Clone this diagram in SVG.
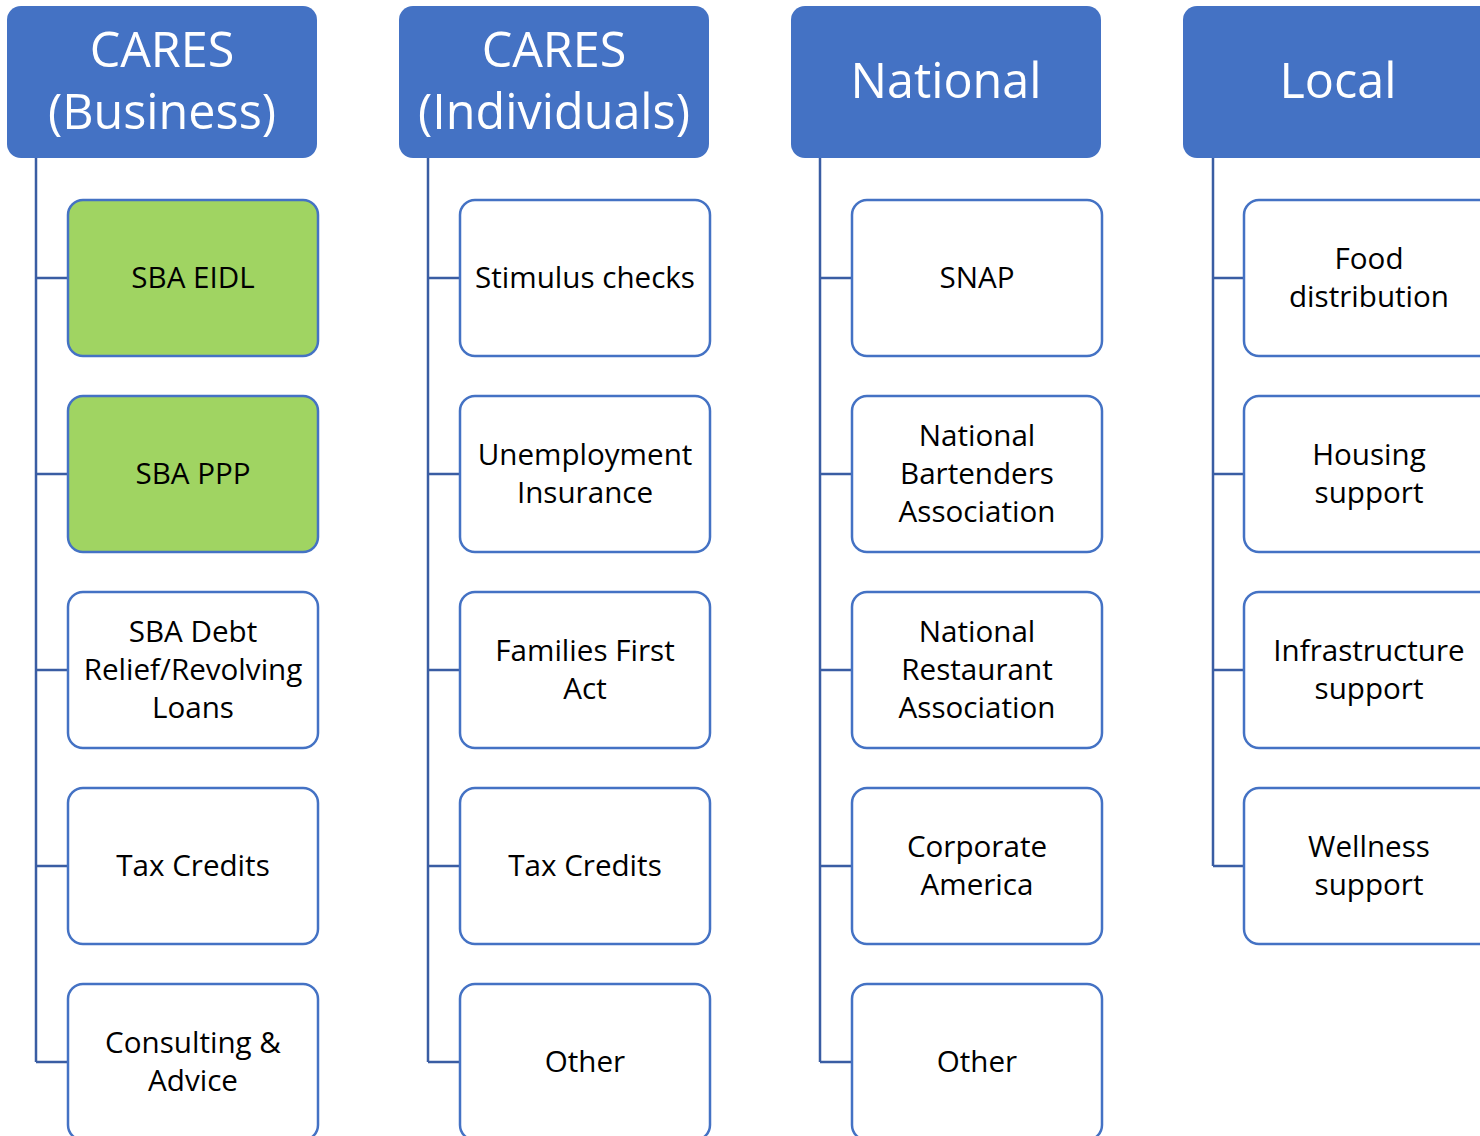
<svg xmlns="http://www.w3.org/2000/svg" width="1480" height="1136" viewBox="0 0 1480 1136">
<style>
.hdr{fill:#4472C4;}
.box{fill:#FFFFFF;stroke:#4472C4;stroke-width:2.5;}
.grn{fill:#A0D462;}
.ht{font-family:"Open Sans","Noto Sans",sans-serif;font-size:48.5px;fill:#FFFFFF;text-anchor:middle;}
.bt{font-family:"Open Sans","Noto Sans",sans-serif;font-size:29.6px;fill:#000000;text-anchor:middle;}
.conn{fill:none;stroke:#3A5DA3;stroke-width:2.5;}
</style>
<rect width="1480" height="1136" fill="#FFFFFF"/>
<g id="connectors">
<path class="conn" d="M36,158 V1062 M36,278 H68 M36,474 H68 M36,670 H68 M36,866 H68 M36,1062 H68"/>
<path class="conn" d="M428,158 V1062 M428,278 H460 M428,474 H460 M428,670 H460 M428,866 H460 M428,1062 H460"/>
<path class="conn" d="M820,158 V1062 M820,278 H852 M820,474 H852 M820,670 H852 M820,866 H852 M820,1062 H852"/>
<path class="conn" d="M1213,158 V866 M1213,278 H1244 M1213,474 H1244 M1213,670 H1244 M1213,866 H1244"/>
</g>
<g id="h1"><rect class="hdr" x="7" y="6" width="310" height="152" rx="14"/><text class="ht" x="162" y="67">CARES</text><text class="ht" x="162" y="129">(Business)</text></g>
<g id="h2"><rect class="hdr" x="399" y="6" width="310" height="152" rx="14"/><text class="ht" x="554" y="67">CARES</text><text class="ht" x="554" y="129">(Individuals)</text></g>
<g id="h3"><rect class="hdr" x="791" y="6" width="310" height="152" rx="14"/><text class="ht" x="946" y="98">National</text></g>
<g id="h4"><rect class="hdr" x="1183" y="6" width="310" height="152" rx="14"/><text class="ht" x="1338" y="98">Local</text></g>

<g id="b1"><rect class="box grn" x="68" y="200" width="250" height="156" rx="15"/><text class="bt" x="193" y="288">SBA EIDL</text></g>
<g id="b2"><rect class="box grn" x="68" y="396" width="250" height="156" rx="15"/><text class="bt" x="193" y="484">SBA PPP</text></g>
<g id="b3"><rect class="box" x="68" y="592" width="250" height="156" rx="15"/><text class="bt" x="193" y="642">SBA Debt</text><text class="bt" x="193" y="680">Relief/Revolving</text><text class="bt" x="193" y="718">Loans</text></g>
<g id="b4"><rect class="box" x="68" y="788" width="250" height="156" rx="15"/><text class="bt" x="193" y="876">Tax Credits</text></g>
<g id="b5"><rect class="box" x="68" y="984" width="250" height="156" rx="15"/><text class="bt" x="193" y="1053">Consulting &amp;</text><text class="bt" x="193" y="1091">Advice</text></g>

<g id="c1"><rect class="box" x="460" y="200" width="250" height="156" rx="15"/><text class="bt" x="585" y="288">Stimulus checks</text></g>
<g id="c2"><rect class="box" x="460" y="396" width="250" height="156" rx="15"/><text class="bt" x="585" y="465">Unemployment</text><text class="bt" x="585" y="503">Insurance</text></g>
<g id="c3"><rect class="box" x="460" y="592" width="250" height="156" rx="15"/><text class="bt" x="585" y="661">Families First</text><text class="bt" x="585" y="699">Act</text></g>
<g id="c4"><rect class="box" x="460" y="788" width="250" height="156" rx="15"/><text class="bt" x="585" y="876">Tax Credits</text></g>
<g id="c5"><rect class="box" x="460" y="984" width="250" height="156" rx="15"/><text class="bt" x="585" y="1072">Other</text></g>

<g id="d1"><rect class="box" x="852" y="200" width="250" height="156" rx="15"/><text class="bt" x="977" y="288">SNAP</text></g>
<g id="d2"><rect class="box" x="852" y="396" width="250" height="156" rx="15"/><text class="bt" x="977" y="446">National</text><text class="bt" x="977" y="484">Bartenders</text><text class="bt" x="977" y="522">Association</text></g>
<g id="d3"><rect class="box" x="852" y="592" width="250" height="156" rx="15"/><text class="bt" x="977" y="642">National</text><text class="bt" x="977" y="680">Restaurant</text><text class="bt" x="977" y="718">Association</text></g>
<g id="d4"><rect class="box" x="852" y="788" width="250" height="156" rx="15"/><text class="bt" x="977" y="857">Corporate</text><text class="bt" x="977" y="895">America</text></g>
<g id="d5"><rect class="box" x="852" y="984" width="250" height="156" rx="15"/><text class="bt" x="977" y="1072">Other</text></g>

<g id="e1"><rect class="box" x="1244" y="200" width="250" height="156" rx="15"/><text class="bt" x="1369" y="269">Food</text><text class="bt" x="1369" y="307">distribution</text></g>
<g id="e2"><rect class="box" x="1244" y="396" width="250" height="156" rx="15"/><text class="bt" x="1369" y="465">Housing</text><text class="bt" x="1369" y="503">support</text></g>
<g id="e3"><rect class="box" x="1244" y="592" width="250" height="156" rx="15"/><text class="bt" x="1369" y="661">Infrastructure</text><text class="bt" x="1369" y="699">support</text></g>
<g id="e4"><rect class="box" x="1244" y="788" width="250" height="156" rx="15"/><text class="bt" x="1369" y="857">Wellness</text><text class="bt" x="1369" y="895">support</text></g>
</svg>
